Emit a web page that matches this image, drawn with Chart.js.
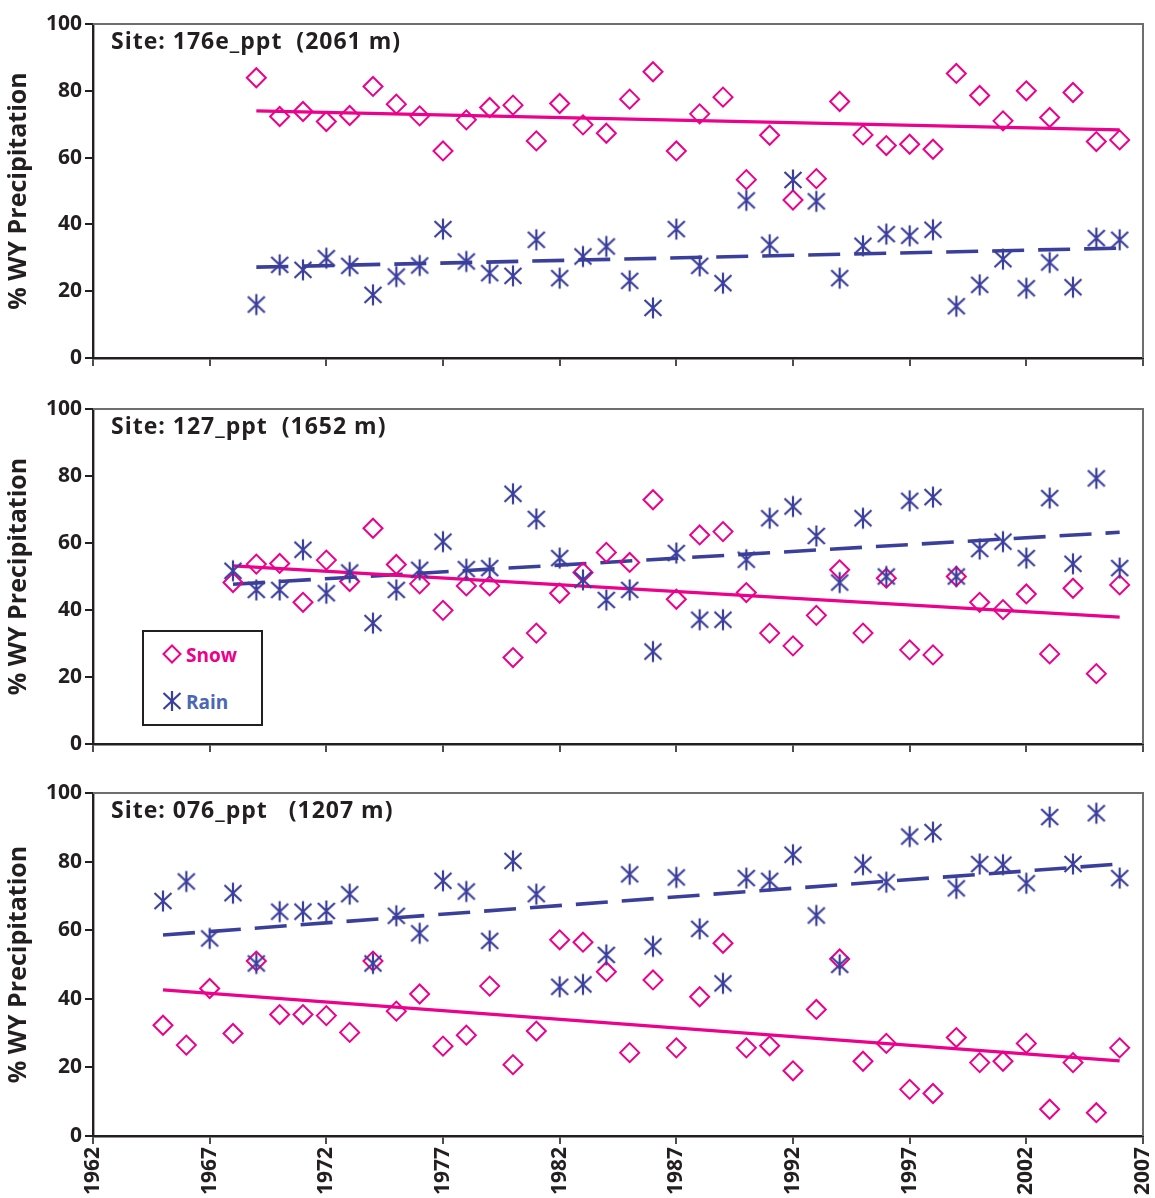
<!DOCTYPE html>
<html><head><meta charset="utf-8">
<script src="https://cdn.jsdelivr.net/npm/chart.js@4.4.0/dist/chart.umd.min.js"></script>
<style>
html,body{margin:0;padding:0;background:#fff;width:1155px;height:1198px;overflow:hidden;}
canvas{position:absolute;left:0;}
#legend{position:absolute;left:142px;top:630px;}
</style></head><body>
<canvas id="c1" width="1155" height="380" style="top:0px"></canvas>
<canvas id="c2" width="1155" height="380" style="top:385px"></canvas>
<canvas id="c3" width="1155" height="428" style="top:770px"></canvas>
<svg id="legend" width="122" height="98" xmlns="http://www.w3.org/2000/svg">
  <rect x="1" y="1" width="119" height="94" fill="#fff" stroke="#231f20" stroke-width="2"/>
  <path d="M30 15.5 L38.5 24 L30 32.5 L21.5 24 Z" fill="none" stroke="#ec008c" stroke-width="2"/>
  <text x="44" y="31.5" font-family="Open Sans" font-weight="700" font-size="19" fill="#ec008c">Snow</text>
  <g stroke="#3b3f9c" stroke-width="2.2" fill="none">
    <line x1="30" y1="61" x2="30" y2="81"/>
    <line x1="21.5" y1="63" x2="38.5" y2="79"/>
    <line x1="38.5" y1="63" x2="21.5" y2="79"/>
  </g>
  <text x="44" y="78.5" font-family="Open Sans" font-weight="700" font-size="19" fill="#4a67b5">Rain</text>
</svg>
<script>
// ---------- DATA ----------
const xTicks = [1962, 1967, 1972, 1977, 1982, 1987, 1992, 1997, 2002, 2007];
const xTickLabels = ['1962','1967','1972','1977','1982','1987','1992','1997','2002','2007'];
const yTicks = [0, 20, 40, 60, 80, 100];
const yTickLabels = ['0','20','40','60','80','100'];

const siteLabels = ['Site: 176e_ppt  (2061 m)', 'Site: 127_ppt  (1652 m)', 'Site: 076_ppt   (1207 m)'];

const years1 = [1969,1970,1971,1972,1973,1974,1975,1976,1977,1978,1979,1980,1981,1982,1983,1984,1985,1986,1987,1988,1989,1990,1991,1992,1993,1994,1995,1996,1997,1998,1999,2000,2001,2002,2003,2004,2005,2006];
const snow1 = [83.9,72.3,73.8,70.8,72.6,81.3,76.0,72.5,62.0,71.3,75.0,75.7,65.0,76.2,69.8,67.3,77.5,85.7,62.0,73.1,78.1,53.4,66.7,47.3,53.7,76.8,66.8,63.6,64.0,62.5,85.2,78.6,71.0,80.0,72.0,79.5,64.8,65.3];
const rain1 = [16.0,27.9,26.4,29.9,27.6,18.9,24.4,27.7,38.6,28.9,25.4,24.6,35.4,23.9,30.4,33.4,23.1,15.0,38.6,27.6,22.4,47.2,33.9,53.3,46.9,23.9,33.6,37.1,36.6,38.4,15.5,21.9,29.6,20.9,28.6,21.2,35.9,35.4];
const snowTrend1 = [[1969, 74.0], [2006, 68.3]];
const rainTrend1 = [[1969, 27.2], [2006, 32.9]];

const years2 = [1968,1969,1970,1971,1972,1973,1974,1975,1976,1977,1978,1979,1980,1981,1982,1983,1984,1985,1986,1987,1988,1989,1990,1991,1992,1993,1994,1995,1996,1997,1998,1999,2000,2001,2002,2003,2004,2005,2006];
const snow2 = [48.2,53.7,53.9,42.3,54.9,48.5,64.4,53.6,47.8,39.9,47.2,47.2,25.8,33.1,45.0,51.2,57.2,54.2,72.9,43.2,62.4,63.4,45.2,33.1,29.3,38.4,52.0,33.1,49.5,28.1,26.6,50.0,42.3,40.1,44.8,26.9,46.5,21.0,47.5];
const rain2 = [51.7,46.0,46.0,58.0,45.0,51.2,36.1,46.0,52.0,60.4,52.2,52.5,74.7,67.2,55.5,49.0,43.0,46.0,27.6,57.0,37.1,37.1,55.0,67.4,70.9,62.1,48.2,67.4,50.0,72.6,73.7,50.0,58.2,60.4,55.5,73.4,53.8,79.3,52.5];
const snowTrend2 = [[1968, 53.2], [2006, 37.9]];
const rainTrend2 = [[1968, 47.7], [2006, 63.2]];

const years3 = [1965,1966,1967,1968,1969,1970,1971,1972,1973,1974,1975,1976,1977,1978,1979,1980,1981,1982,1983,1984,1985,1986,1987,1988,1989,1990,1991,1992,1993,1994,1995,1996,1997,1998,1999,2000,2001,2002,2003,2004,2005,2006];
const snow3 = [32.3,26.5,43.0,29.9,51.0,35.4,35.4,35.1,30.2,51.0,36.4,41.4,26.2,29.4,43.7,20.8,30.6,57.2,56.5,47.9,24.3,45.5,25.7,40.6,56.2,25.7,26.3,19.0,36.9,51.6,21.8,27.0,13.6,12.4,28.7,21.4,21.8,27.0,7.8,21.4,6.8,25.7];
const rain3 = [68.5,74.2,57.6,70.8,50.3,65.4,65.4,65.6,70.5,50.3,64.2,59.1,74.4,71.3,56.9,80.2,70.5,43.5,44.2,52.8,76.3,55.3,75.4,60.4,44.5,75.2,74.4,82.0,64.3,49.9,79.1,74.0,87.3,88.6,72.2,79.3,79.1,73.7,93.0,79.3,94.1,75.2];
const snowTrend3 = [[1965, 42.6], [2006, 21.9]];
const rainTrend3 = [[1965, 58.6], [2006, 79.3]];

// ---------- STYLE ----------
const FONT = 'Open Sans';
const INK = '#231f20';
const SNOW_COLOR = '#ec008c';
const RAIN_COLOR = '#3b3f9c';

function makeAsterisk(color) {
  const c = document.createElement('canvas');
  c.width = 22; c.height = 24;
  const g = c.getContext('2d');
  g.strokeStyle = color; g.lineWidth = 2.2;
  g.beginPath();
  g.moveTo(11, 1.5); g.lineTo(11, 22.5);
  g.moveTo(2.5, 4); g.lineTo(19.5, 20);
  g.moveTo(19.5, 4); g.lineTo(2.5, 20);
  g.stroke();
  return c;
}
const asterisk = makeAsterisk(RAIN_COLOR);

function pts(xs, ys) { return xs.map((x, i) => ({x: x, y: ys[i]})); }
function trendPts(t) { return t.map(p => ({x: p[0], y: p[1]})); }

function makeChart(id, cfg) {
  const framePlugin = {
    id: 'frame',
    beforeDatasetsDraw(chart) {
      const a = chart.chartArea, ctx = chart.ctx;
      ctx.save();
      ctx.strokeStyle = '#6d6e71'; ctx.lineWidth = 2;
      ctx.beginPath();
      ctx.moveTo(a.left, a.top); ctx.lineTo(a.right, a.top); ctx.lineTo(a.right, a.bottom);
      ctx.stroke();
      ctx.fillStyle = INK;
      ctx.font = '700 23px "' + FONT + '"';
      try { ctx.letterSpacing = '1px'; } catch (e) {}
      ctx.textBaseline = 'alphabetic';
      ctx.fillText(cfg.site, a.left + 18, a.top + 25);
      ctx.restore();
    }
  };
  return new Chart(document.getElementById(id), {
    type: 'scatter',
    data: {
      datasets: [
        {type: 'line', data: trendPts(cfg.snowTrend), borderColor: SNOW_COLOR, borderWidth: 3.2, pointRadius: 0, fill: false, order: 3},
        {type: 'line', data: trendPts(cfg.rainTrend), borderColor: RAIN_COLOR, borderWidth: 3.6, borderDash: [32, 14], pointRadius: 0, fill: false, order: 4},
        {label: 'Snow', data: pts(cfg.years, cfg.snow), pointStyle: 'rectRot', pointRadius: 9.5, borderColor: SNOW_COLOR, backgroundColor: 'rgba(0,0,0,0)', borderWidth: 2, order: 2},
        {label: 'Rain', data: pts(cfg.years, cfg.rain), pointStyle: asterisk, pointRadius: 11, borderColor: RAIN_COLOR, backgroundColor: RAIN_COLOR, order: 1}
      ]
    },
    options: {
      responsive: false, animation: false, devicePixelRatio: 1, events: [],
      layout: {padding: {top: cfg.padTop, right: 7, left: 0, bottom: 0}},
      plugins: {legend: {display: false}, tooltip: {enabled: false}},
      scales: {
        x: {
          type: 'linear', min: 1962, max: 2007,
          afterBuildTicks: s => { s.ticks = xTicks.map(v => ({value: v})); },
          ticks: {display: cfg.showX, callback: (v, i) => xTickLabels[i], minRotation: 90, maxRotation: 90, autoSkip: false,
                  font: {family: FONT, weight: '700', size: 21}, color: INK, padding: 3},
          grid: {drawOnChartArea: false, drawTicks: true, tickLength: 8, color: '#4d4d4f', lineWidth: 2},
          border: {color: INK, width: 2.4},
          afterFit: s => { s.height = cfg.xHeight; s.paddingLeft = 0; s.paddingRight = 0; }
        },
        y: {
          min: 0, max: 100,
          afterBuildTicks: s => { s.ticks = yTicks.map(v => ({value: v})); },
          ticks: {callback: (v, i) => yTickLabels[i], font: {family: FONT, weight: '700', size: 21}, color: INK, padding: 3},
          grid: {drawOnChartArea: false, drawTicks: true, tickLength: 8, color: INK, lineWidth: 2},
          border: {color: INK, width: 2.4},
          title: {display: true, text: '% WY Precipitation', font: {family: FONT, weight: '700', size: 25}, color: INK, padding: {top: 4, bottom: 0}},
          afterFit: s => { s.width = 93; s.paddingTop = 0; s.paddingBottom = 0; }
        }
      }
    },
    plugins: [framePlugin]
  });
}

makeChart('c1', {site: siteLabels[0], years: years1, snow: snow1, rain: rain1, snowTrend: snowTrend1, rainTrend: rainTrend1, padTop: 24, xHeight: 22, showX: false});
makeChart('c2', {site: siteLabels[1], years: years2, snow: snow2, rain: rain2, snowTrend: snowTrend2, rainTrend: rainTrend2, padTop: 24, xHeight: 21, showX: false});
makeChart('c3', {site: siteLabels[2], years: years3, snow: snow3, rain: rain3, snowTrend: snowTrend3, rainTrend: rainTrend3, padTop: 23, xHeight: 62, showX: true});
</script>
</body></html>
